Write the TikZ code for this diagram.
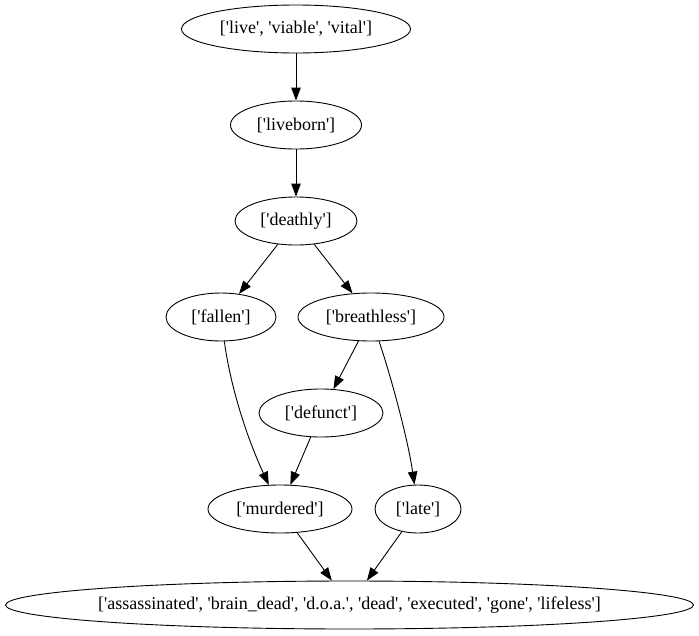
\documentclass[tikz,border=0pt]{standalone}
\usepackage{fontspec}
\setmainfont{Liberation Serif}[Ligatures=TeXOff]
\usetikzlibrary{shapes.geometric,arrows.meta}

\tikzset{
  word/.style={ellipse, draw, line width=0.9pt, inner sep=0pt,
    minimum height=48pt, font=\fontsize{18}{20}\selectfont},
  edge/.style={line width=0.9pt, -{Triangle[length=13pt,width=9.5pt]}}
}

\begin{document}
\begin{tikzpicture}[x=1pt,y=-1pt]
		\useasboundingbox (0,0) rectangle (699,635);
		% ranks from top to bottom
		\node[word, minimum width=229pt] (live) at (296,29){['live', 'viable', 'vital']};
		\node[word, minimum width=131pt] (liveborn) at (296,125){['liveborn']};
		\node[word, minimum width=122pt] (deathly) at (296,221){['deathly']};
		\node[word, minimum width=110pt] (fallen) at (221,317){['fallen']};
		\node[word, minimum width=146pt] (breathless) at (371,317){['breathless']};
		\node[word, minimum width=124pt] (defunct) at (321,413){['defunct']};
		\node[word, minimum width=144pt] (murdered) at (280,509){['murdered']};
		\node[word, minimum width=86pt] (late) at (418,509){['late']};
		\node[word, minimum width=688pt, inner xsep=-10pt] (dead) at (349.5,605){['assassinated', 'brain\_dead', 'd.o.a.', 'dead', 'executed', 'gone', 'lifeless']};
		% edges
		\draw[edge] (live) -- (liveborn);
		\draw[edge] (liveborn) -- (deathly);
		\draw[edge] (deathly) -- (fallen);
		\draw[edge] (deathly) -- (breathless);
		\draw[edge] (fallen) .. controls (231,390) and (248,440) .. (murdered);
		\draw[edge] (breathless) -- (defunct);
		\draw[edge] (breathless) .. controls (392,380) and (408,440) .. (late);
		\draw[edge] (defunct) -- (murdered);
		\draw[edge] (murdered) -- (dead);
		\draw[edge] (late) -- (dead);
	\end{tikzpicture}
\end{document}
